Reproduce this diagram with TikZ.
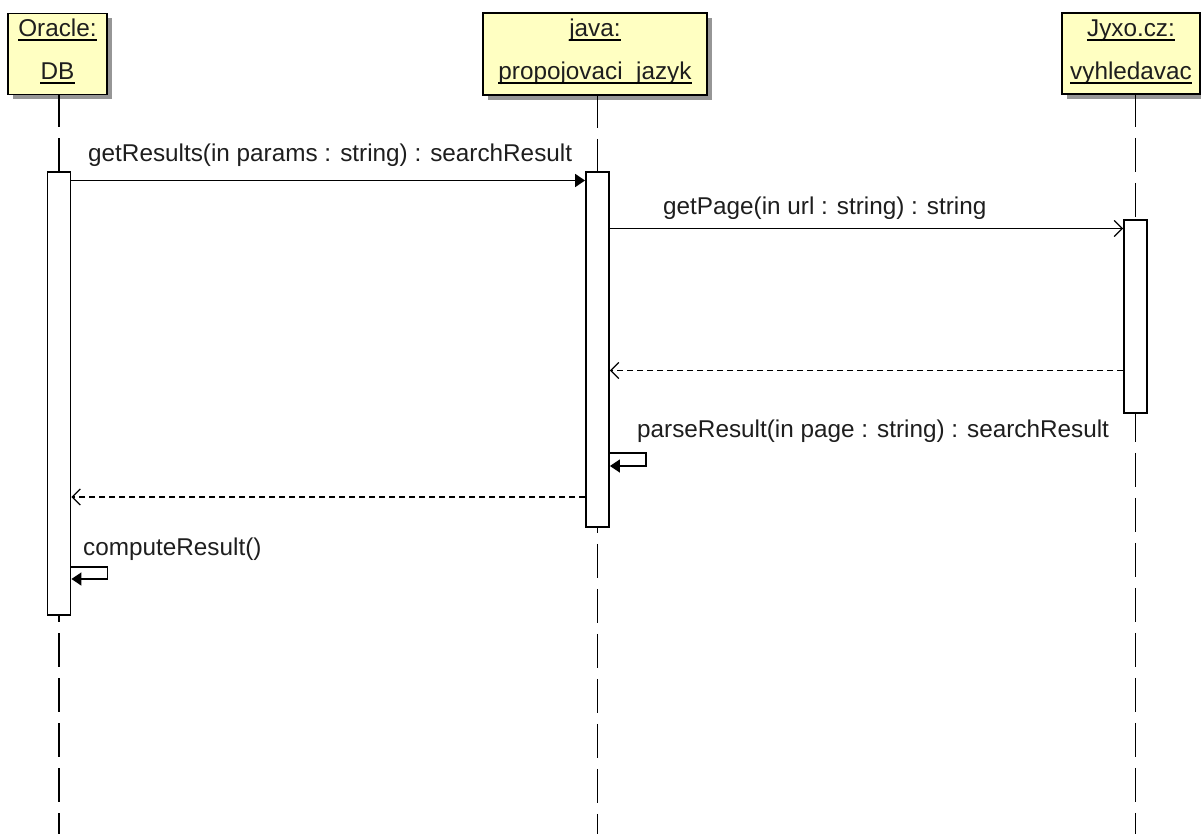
\documentclass[tikz,border=0pt]{standalone}
\usepackage{fontspec}
\setmainfont{Liberation Sans}
\usetikzlibrary{arrows.meta,calc,shadows}

\definecolor{boxyellow}{RGB}{255,255,194}
\definecolor{shadowgray}{RGB}{150,150,150}
\definecolor{inkgray}{RGB}{30,30,30}

% object heading: underlined text sitting on a baseline
\newcommand\objlabel[3]{%
  \node[txt, anchor=base] (#1) at (#2) {#3};
  \draw[line width=1.4pt] ($(#1.base west)+(0,3)$) -- ($(#1.base east)+(0,3)$);
}

\begin{document}
\begin{tikzpicture}[x=1pt,y=-1pt,
  txt/.style={inner sep=0pt, font=\fontsize{24.3}{28}\selectfont, text=inkgray},
  objbox/.style={draw=black, line width=1.8pt, fill=boxyellow, inner sep=0pt,
    drop shadow={shadow xshift=5pt, shadow yshift=-5pt, fill=shadowgray, opacity=1}},
  lifeline/.style={draw=black, line width=1.8pt, dash pattern=on 34pt off 11pt, dash phase=2pt},
  actbar/.style={draw=black, line width=1.8pt, fill=white, minimum width=23pt, inner sep=0pt, anchor=north},
  call/.style={draw=black, line width=1.5pt, -{Triangle[length=10pt, width=13pt]}},
  async/.style={draw=black, line width=1.5pt, -{Straight Barb[length=8pt, width=16pt, line width=1.3pt]}},
  reply/.style={draw=black, line width=1.4pt, dash pattern=on 6pt off 4pt,
    -{Straight Barb[length=8pt, width=16pt, line width=1.3pt]}},
]
\useasboundingbox (0,0) rectangle (1201,834);

% object boxes
\node[objbox, minimum width=99pt, minimum height=81pt] (oracle) at (57.5,54) {};
\node[objbox, minimum width=224pt, minimum height=82pt] (java) at (595,54) {};
\node[objbox, minimum width=138pt, minimum height=81pt] (jyxo) at (1131,53.5) {};

\objlabel{oracleA}{57.5,37}{Oracle:}
\objlabel{oracleB}{57.5,80}{DB}
\objlabel{javaA}{595,37}{java:}
\objlabel{javaB}{595,80}{propojovaci\_jazyk}
\objlabel{jyxoA}{1131,37}{Jyxo.cz:}
\objlabel{jyxoB}{1131,80}{vyhledavac}

% lifelines
\coordinate (oracleEnd) at (59,834);
\coordinate (javaEnd) at (597.5,834);
\coordinate (jyxoEnd) at (1135.5,834);
\draw[lifeline] (oracle.south -| oracleEnd) -- (oracleEnd);
\draw[lifeline] (java.south -| javaEnd) -- (javaEnd);
\draw[lifeline] (jyxo.south -| jyxoEnd) -- (jyxoEnd);

% activation bars
\node[actbar, minimum height=443pt] (actO) at (59,171) {};
\node[actbar, minimum height=355pt] (actJ) at (597.5,171) {};
\node[actbar, minimum height=193pt] (actY) at (1135.5,219) {};

% messages
\draw[call] (actO.east |- 0,180.5) -- (actJ.west |- 0,180.5);
\node[txt, anchor=base west] (m1) at (88,162) {getResults(in params : string) : searchResult};

\draw[async] (actJ.east |- 0,228.5) -- (actY.west |- 0,228.5);
\node[txt, anchor=base west] (m2) at (663,215) {getPage(in url : string) : string};

\draw[reply] (actY.west |- 0,370.5) -- (actJ.east |- 0,370.5);

\node[txt, anchor=base west] (m3) at (637,437) {parseResult(in page : string) : searchResult};
\draw[call] (actJ.east |- 0,453) -- ++(36,0) -- ++(0,13) -- (actJ.east |- 0,466);

\draw[reply] (actJ.west |- 0,497) -- (actO.east |- 0,497);

\node[txt, anchor=base west] (m4) at (83,555) {computeResult()};
\draw[call] (actO.east |- 0,567) -- ++(36,0) -- ++(0,12) -- (actO.east |- 0,579);
\end{tikzpicture}
\end{document}
